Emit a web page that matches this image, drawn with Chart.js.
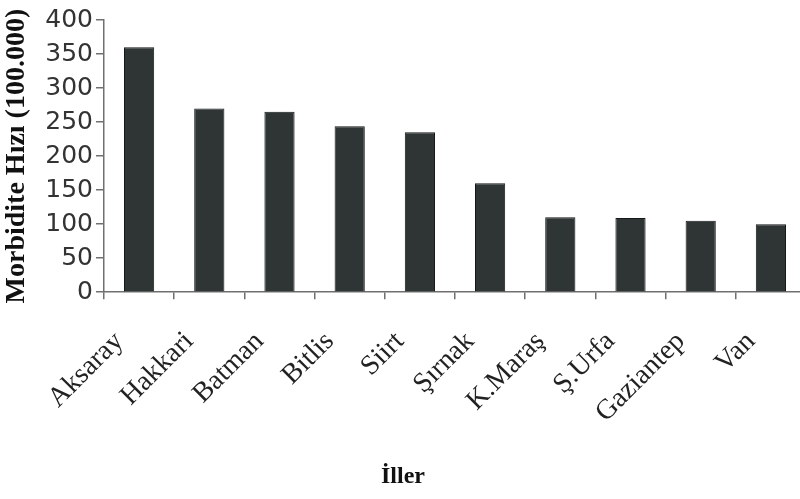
<!DOCTYPE html>
<html>
<head>
<meta charset="utf-8">
<script src="https://cdn.jsdelivr.net/npm/chart.js@4/dist/chart.umd.min.js"></script>
<style>
  html, body { margin: 0; padding: 0; background: #fff; overflow: hidden; }
  #wrap { position: relative; width: 810px; height: 499px; }
</style>
</head>
<body>
<div id="wrap"><canvas id="c"></canvas></div>
<script>
const categories = ['Aksaray', 'Hakkari', 'Batman', 'Bitlis', 'Siirt', 'Şırnak', 'K.Maraş', 'Ş.Urfa', 'Gaziantep', 'Van'];
const morbidity = [360, 270, 265, 244, 235, 160, 110, 109, 105, 100];
const yTicks = [0, 50, 100, 150, 200, 250, 300, 350, 400];
const yTitle = 'Morbidite Hızı (100.000)';
const xTitle = 'İller';

const axisGray = '#707070';

new Chart(document.getElementById('c'), {
  type: 'bar',
  data: {
    labels: categories,
    datasets: [{
      data: morbidity,
      backgroundColor: '#2f3535',
      borderColor: '#151818',
      borderWidth: 1,
      barPercentage: 0.43,
      categoryPercentage: 1.0
    }]
  },
  options: {
    responsive: true,
    maintainAspectRatio: false,
    animation: false,
    layout: { padding: { top: 20, right: 4, left: 0, bottom: 0 } },
    plugins: {
      legend: { display: false },
      tooltip: { enabled: false },
      title: {
        display: true,
        position: 'bottom',
        text: xTitle,
        color: '#111',
        font: { family: '"Liberation Serif", serif', size: 24, weight: 'bold', lineHeight: 1.2 },
        padding: { top: 0, bottom: 8 }
      }
    },
    scales: {
      x: {
        offset: true,
        border: { display: true, color: axisGray, width: 1.5 },
        grid: { display: true, drawOnChartArea: false, drawTicks: true, tickLength: 7, color: axisGray, lineWidth: 1.5, offset: true },
        ticks: {
          autoSkip: false,
          maxRotation: 45,
          minRotation: 45,
          padding: 26,
          labelOffset: -20,
          color: '#222',
          font: { family: '"Liberation Serif", "DejaVu Serif", serif', size: 28 }
        },
        afterFit(scale) {
          scale.height = 170;
          scale.paddingLeft = 0;
          scale.paddingRight = 0;
        }
      },
      y: {
        min: 0,
        max: 400,
        afterBuildTicks(scale) { scale.ticks = yTicks.map(v => ({ value: v })); },
        border: { display: true, color: axisGray, width: 1.5 },
        grid: { display: true, drawOnChartArea: false, drawTicks: true, tickLength: 8, color: axisGray, lineWidth: 1.5 },
        ticks: {
          padding: 3,
          color: '#333',
          font: { family: '"DejaVu Sans", sans-serif', size: 25 }
        },
        title: {
          display: true,
          text: yTitle,
          color: '#111',
          font: { family: '"Liberation Serif", serif', size: 28, weight: 'bold' },
          padding: { top: 0, bottom: 0 }
        },
        afterFit(scale) { scale.width = 104; }
      }
    }
  }
});
</script>
</body>
</html>
